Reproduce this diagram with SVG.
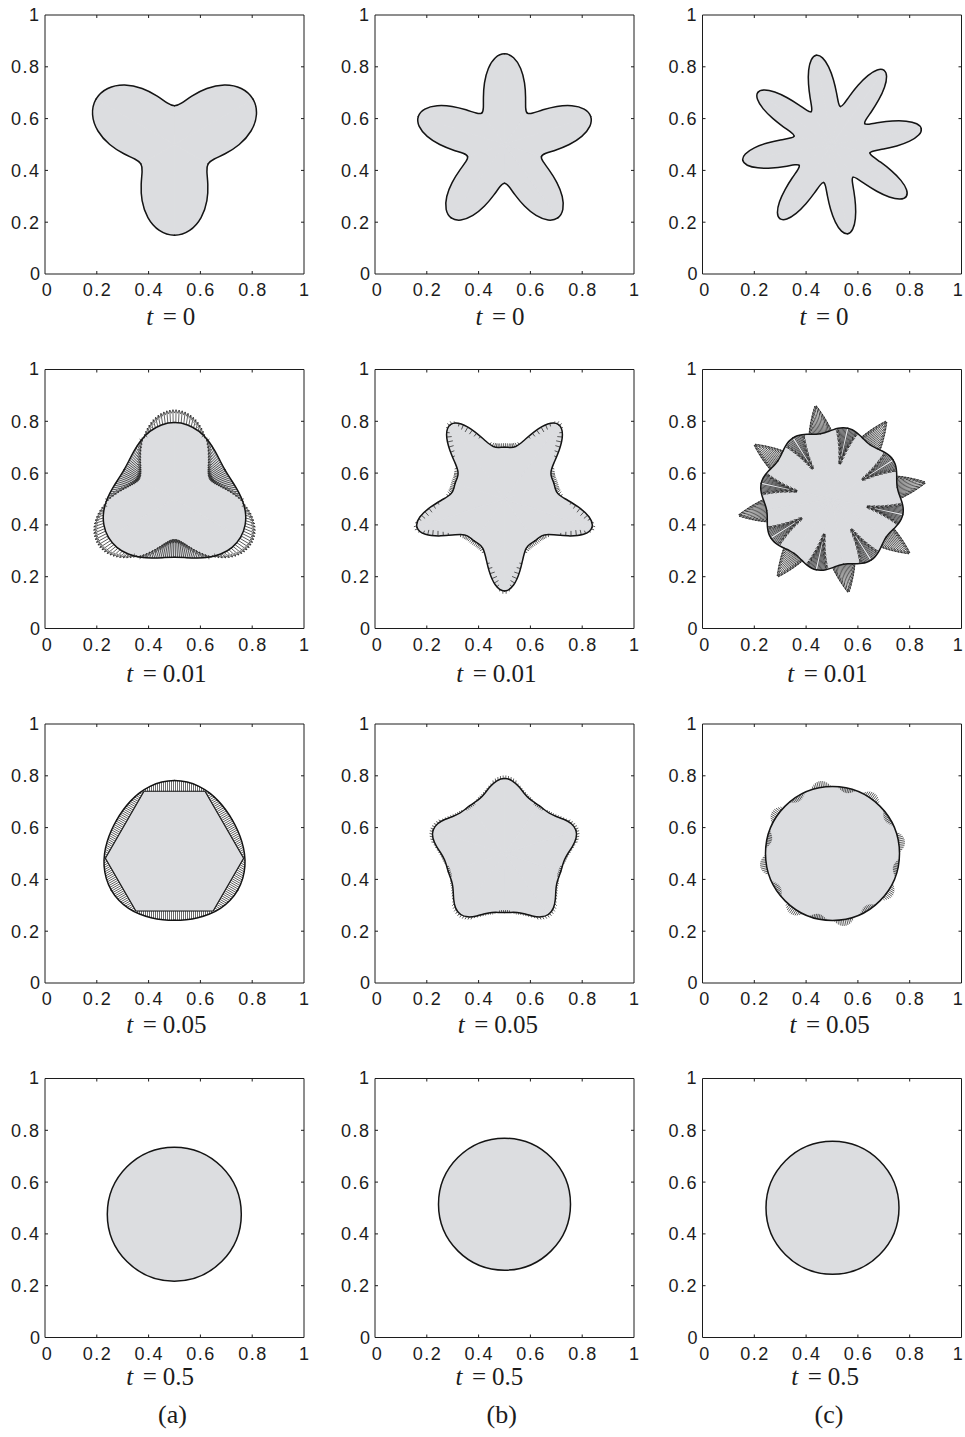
<svg xmlns="http://www.w3.org/2000/svg" width="965" height="1437" viewBox="0 0 965 1437">
<style>
.fr{fill:none;stroke:#1c1c1c;stroke-width:1}
.tl{font-family:"Liberation Sans",Arial,Helvetica,sans-serif;font-size:18px;fill:#1c1c1c;letter-spacing:1.5px}
.ty{text-anchor:end}
.tx{text-anchor:middle}
.cap{font-family:"Liberation Serif","Times New Roman",serif;font-size:25px;fill:#1c1c1c}
.sub{font-family:"Liberation Serif","Times New Roman",serif;font-size:26px;fill:#1c1c1c;text-anchor:middle}
.gf{fill:#dcdde0;stroke:#dcdde0;stroke-width:0.8;stroke-linejoin:round}
.ol{fill:none;stroke:#141414;stroke-width:1.5;stroke-linejoin:round;stroke-linecap:round}
.olt{fill:none;stroke:#141414;stroke-width:1.1;stroke-linejoin:round}
.q{fill:none;stroke:#1a1a1a;stroke-width:0.65}
.qa{marker-end:url(#ah)}
.circ{fill:#dcdde0;stroke:#141414;stroke-width:1.5}
</style>
<defs>
<marker id="ah" viewBox="-4 -2 4.6 4" refX="0" refY="0" markerWidth="4.6" markerHeight="4" markerUnits="userSpaceOnUse" orient="auto"><path d="M-3.4,-1.5L0,0L-3.4,1.5" fill="none" stroke="#1a1a1a" stroke-width="0.6"/></marker>
<path id="frm" d="M0,0H259V259H0Z M51.8,259v-3M103.6,259v-3M155.4,259v-3M207.2,259v-3 M51.8,0v3M103.6,0v3M155.4,0v3M207.2,0v3 M0,51.8h3M0,103.6h3M0,155.4h3M0,207.2h3 M259,51.8h-3M259,103.6h-3M259,155.4h-3M259,207.2h-3"/>

<path id="w1a" d="M0,0L90.65,0C90.65,5.27 88.96,10.54 85.85,15.14C82.74,19.74 78.23,23.66 73.01,26.57C67.79,29.48 61.87,31.38 56.07,32.38C50.27,33.38 44.62,33.51 39.68,33.30C34.74,33.09 30.54,32.57 27.20,32.42C23.86,32.27 21.39,32.51 19.43,33.64Z"/>
<path id="a1a" d="M90.65,0C90.65,5.27 88.96,10.54 85.85,15.14C82.74,19.74 78.23,23.66 73.01,26.57C67.79,29.48 61.87,31.38 56.07,32.38C50.27,33.38 44.62,33.51 39.68,33.30C34.74,33.09 30.54,32.57 27.20,32.42C23.86,32.27 21.39,32.51 19.43,33.64"/>
<g id="pw1a"><use href="#w1a"/><use href="#w1a" transform="scale(1,-1)"/></g>
<g id="pa1a"><use href="#a1a"/><use href="#a1a" transform="scale(1,-1)"/></g>

<path id="w1b" d="M0,0L90.65,0C90.65,3.16 89.27,6.32 86.70,9.11C84.13,11.90 80.39,14.31 76.00,16.15C71.61,17.99 66.58,19.26 61.58,20.01C56.58,20.76 51.63,21.01 47.32,21.07C43.01,21.13 39.35,21.01 36.65,21.16C33.95,21.31 32.23,21.74 31.43,22.84Z"/>
<path id="a1b" d="M90.65,0C90.65,3.16 89.27,6.32 86.70,9.11C84.13,11.90 80.39,14.31 76.00,16.15C71.61,17.99 66.58,19.26 61.58,20.01C56.58,20.76 51.63,21.01 47.32,21.07C43.01,21.13 39.35,21.01 36.65,21.16C33.95,21.31 32.23,21.74 31.43,22.84"/>
<g id="pw1b"><use href="#w1b"/><use href="#w1b" transform="scale(1,-1)"/></g>
<g id="pa1b"><use href="#a1b"/><use href="#a1b" transform="scale(1,-1)"/></g>

<path id="w1c" d="M0,0L90.65,0C90.65,1.98 89.37,3.95 86.99,5.70C84.61,7.45 81.13,8.97 77.03,10.14C72.93,11.31 68.22,12.13 63.51,12.63C58.80,13.13 54.10,13.33 50.03,13.41C45.96,13.49 42.51,13.45 40.07,13.60C37.63,13.75 36.21,14.09 35.89,14.87Z"/>
<path id="a1c" d="M90.65,0C90.65,1.98 89.37,3.95 86.99,5.70C84.61,7.45 81.13,8.97 77.03,10.14C72.93,11.31 68.22,12.13 63.51,12.63C58.80,13.13 54.10,13.33 50.03,13.41C45.96,13.49 42.51,13.45 40.07,13.60C37.63,13.75 36.21,14.09 35.89,14.87"/>
<g id="pw1c"><use href="#w1c"/><use href="#w1c" transform="scale(1,-1)"/></g>
<g id="pa1c"><use href="#a1c"/><use href="#a1c" transform="scale(1,-1)"/></g>

<path id="w2a" d="M0,0L76.41,0C76.41,4.45 75.59,8.88 74.05,13.05C72.51,17.22 70.26,21.12 67.54,24.58C64.82,28.04 61.65,31.07 58.32,33.67C54.99,36.27 51.51,38.45 48.11,40.37C44.71,42.29 41.40,43.95 38.24,45.57C35.08,47.19 32.08,48.77 29.14,50.47Z"/>
<path id="a2a" d="M76.41,0C76.41,4.45 75.59,8.88 74.05,13.05C72.51,17.22 70.26,21.12 67.54,24.58C64.82,28.04 61.65,31.07 58.32,33.67C54.99,36.27 51.51,38.45 48.11,40.37C44.71,42.29 41.40,43.95 38.24,45.57C35.08,47.19 32.08,48.77 29.14,50.47"/>
<g id="pw2a"><use href="#w2a"/><use href="#w2a" transform="scale(1,-1)"/></g>
<g id="pa2a"><use href="#a2a"/><use href="#a2a" transform="scale(1,-1)"/></g>

<path id="w2b" d="M0,0L91.94,0C91.94,3.21 89.75,6.40 86.06,9.05C82.37,11.70 77.25,13.78 72.14,15.33C67.03,16.88 61.99,17.91 58.00,18.85C54.01,19.79 51.06,20.68 49.03,21.83C47.00,22.98 45.83,24.38 44.83,25.89C43.83,27.40 42.97,28.99 41.91,30.45Z"/>
<path id="a2b" d="M91.94,0C91.94,3.21 89.75,6.40 86.06,9.05C82.37,11.70 77.25,13.78 72.14,15.33C67.03,16.88 61.99,17.91 58.00,18.85C54.01,19.79 51.06,20.68 49.03,21.83C47.00,22.98 45.83,24.38 44.83,25.89C43.83,27.40 42.97,28.99 41.91,30.45"/>
<g id="pw2b"><use href="#w2b"/><use href="#w2b" transform="scale(1,-1)"/></g>
<g id="pa2b"><use href="#a2b"/><use href="#a2b" transform="scale(1,-1)"/></g>

<path id="w2c" d="M0,0L66.30,0C66.30,1.45 66.40,2.89 66.58,4.36C66.76,5.83 67.01,7.33 67.28,8.86C67.55,10.39 67.84,11.95 68.08,13.54C68.32,15.13 68.49,16.75 68.54,18.37C68.59,19.99 68.52,21.60 68.27,23.18C68.02,24.76 67.61,26.29 67.00,27.75Z"/>
<path id="a2c" d="M66.30,0C66.30,1.45 66.40,2.89 66.58,4.36C66.76,5.83 67.01,7.33 67.28,8.86C67.55,10.39 67.84,11.95 68.08,13.54C68.32,15.13 68.49,16.75 68.54,18.37C68.59,19.99 68.52,21.60 68.27,23.18C68.02,24.76 67.61,26.29 67.00,27.75"/>
<g id="pw2c"><use href="#w2c"/><use href="#w2c" transform="scale(1,-1)"/></g>
<g id="pa2c"><use href="#a2c"/><use href="#a2c" transform="scale(1,-1)"/></g>

<path id="w3b" d="M0,0L75.11,0C75.11,2.62 74.24,5.23 72.73,7.64C71.22,10.05 69.11,12.25 66.89,14.22C64.67,16.19 62.37,17.94 60.35,19.61C58.33,21.28 56.59,22.89 55.12,24.54C53.65,26.19 52.47,27.91 51.30,29.62C50.13,31.33 48.98,33.04 47.77,34.71Z"/>
<path id="a3b" d="M75.11,0C75.11,2.62 74.24,5.23 72.73,7.64C71.22,10.05 69.11,12.25 66.89,14.22C64.67,16.19 62.37,17.94 60.35,19.61C58.33,21.28 56.59,22.89 55.12,24.54C53.65,26.19 52.47,27.91 51.30,29.62C50.13,31.33 48.98,33.04 47.77,34.71"/>
<g id="pw3b"><use href="#w3b"/><use href="#w3b" transform="scale(1,-1)"/></g>
<g id="pa3b"><use href="#a3b"/><use href="#a3b" transform="scale(1,-1)"/></g>

<path id="e3a" d="M73.04,0C73.04,4.25 72.52,8.50 71.52,12.61C70.52,16.72 69.03,20.70 67.17,24.45C65.31,28.20 63.06,31.72 60.56,34.97C58.06,38.22 55.30,41.20 52.38,43.95C49.46,46.70 46.39,49.20 43.22,51.51C40.05,53.82 36.78,55.93 33.41,57.87"/>
<g id="pe3a"><use href="#e3a"/><use href="#e3a" transform="scale(1,-1)"/></g>

<g id="q2a">
<line x1="76.39" x2="89.32" transform="rotate(1)"/>
<line x1="76.29" x2="89.05" transform="rotate(3)"/>
<line x1="76.10" x2="88.52" transform="rotate(5)"/>
<line x1="75.80" x2="87.72" transform="rotate(7)"/>
<line x1="75.42" x2="86.67" transform="rotate(9)"/>
<line x1="74.94" x2="85.39" transform="rotate(11)"/>
<line x1="74.38" x2="83.87" transform="rotate(13)"/>
<line x1="73.75" x2="82.15" transform="rotate(15)"/>
<line x1="73.04" x2="80.23" transform="rotate(17)"/>
<line x1="72.28" x2="78.15" transform="rotate(19)"/>
<line x1="71.46" x2="75.92" transform="rotate(21)"/>
<line x1="70.59" x2="73.57" transform="rotate(23)"/>
<line x1="69.69" x2="71.12" transform="rotate(25)"/>
<line x1="67.81" x2="66.04" transform="rotate(29)"/>
<line x1="66.87" x2="63.46" transform="rotate(31)"/>
<line x1="65.92" x2="60.90" transform="rotate(33)"/>
<line x1="64.99" x2="58.38" transform="rotate(35)"/>
<line x1="64.09" x2="55.93" transform="rotate(37)"/>
<line x1="63.22" x2="53.58" transform="rotate(39)"/>
<line x1="62.40" x2="51.35" transform="rotate(41)"/>
<line x1="61.64" x2="49.27" transform="rotate(43)"/>
<line x1="60.93" x2="47.35" transform="rotate(45)"/>
<line x1="60.30" x2="45.63" transform="rotate(47)"/>
<line x1="59.74" x2="44.11" transform="rotate(49)"/>
<line x1="59.26" x2="42.83" transform="rotate(51)"/>
<line x1="58.88" x2="41.78" transform="rotate(53)"/>
<line x1="58.58" x2="40.98" transform="rotate(55)"/>
<line x1="58.39" x2="40.45" transform="rotate(57)"/>
<line x1="58.29" x2="40.18" transform="rotate(59)"/>
</g>
<g id="Q2a"><use href="#q2a"/><use href="#q2a" transform="scale(1,-1)"/></g>

<g id="q2b">
<line x1="91.78" x2="94.78" transform="rotate(1)"/>
<line x1="90.53" x2="92.53" transform="rotate(3)"/>
<line x1="88.12" x2="85.95" y2="-2.07" transform="rotate(5)"/>
<line x1="84.73" x2="81.65" y2="-3.95" transform="rotate(7)"/>
<line x1="80.62" x2="77.64" y2="-4.63" transform="rotate(9)"/>
<line x1="76.08" x2="73.60" y2="-4.35" transform="rotate(11)"/>
<line x1="71.41" x2="69.51" y2="-3.52" transform="rotate(13)"/>
<line x1="66.91" x2="65.72" y2="-2.20" transform="rotate(15)"/>
<line x1="56.53" x2="58.11" y2="1.94" transform="rotate(21)"/>
<line x1="54.45" x2="57.05" y2="2.35" transform="rotate(23)"/>
<line x1="53.06" x2="56.51" y2="2.02" transform="rotate(25)"/>
<line x1="52.24" x2="56.05" y2="1.21" transform="rotate(27)"/>
<line x1="51.85" x2="55.82" y2="0.49" transform="rotate(29)"/>
<line x1="51.74" x2="55.74" transform="rotate(31)"/>
<line x1="51.75" x2="55.75" transform="rotate(33)"/>
<line x1="51.80" x2="55.80" transform="rotate(35)"/>
</g>
<g id="Q2b"><use href="#q2b"/><use href="#q2b" transform="scale(1,-1)"/></g>

<g id="q2c">
<line x1="66.31" x2="94.54" transform="rotate(0.5)"/>
<line x1="66.37" x2="91.46" transform="rotate(1.5)"/>
<line x1="66.49" x2="88.45" transform="rotate(2.5)"/>
<line x1="66.67" x2="85.49" transform="rotate(3.5)"/>
<line x1="66.90" x2="82.58" transform="rotate(4.5)"/>
<line x1="67.17" x2="79.72" transform="rotate(5.5)"/>
<line x1="67.50" x2="76.91" transform="rotate(6.5)"/>
<line x1="67.86" x2="74.13" transform="rotate(7.5)"/>
<line x1="68.25" x2="71.39" transform="rotate(8.5)"/>
<line x1="70.77" x2="66.17" transform="rotate(14.5)"/>
<line x1="71.15" x2="61.95" transform="rotate(15.5)"/>
<line x1="71.49" x2="57.69" transform="rotate(16.5)"/>
<line x1="71.79" x2="53.39" transform="rotate(17.5)"/>
<line x1="72.05" x2="49.05" transform="rotate(18.5)"/>
<line x1="72.25" x2="44.65" transform="rotate(19.5)"/>
<line x1="72.40" x2="40.20" transform="rotate(20.5)"/>
<line x1="72.49" x2="35.69" transform="rotate(21.5)"/>
</g>
<g id="Q2c"><use href="#q2c"/><use href="#q2c" transform="scale(1,-1)"/></g>

<g id="s3a">
<line x1="62.16" y1="1" x2="73.02" y2="1"/>
<line x1="62.16" y1="3" x2="72.95" y2="3"/>
<line x1="62.16" y1="5" x2="72.80" y2="5"/>
<line x1="62.16" y1="7" x2="72.57" y2="7"/>
<line x1="62.16" y1="9" x2="72.27" y2="9"/>
<line x1="62.16" y1="11" x2="71.88" y2="11"/>
<line x1="62.16" y1="13" x2="71.42" y2="13"/>
<line x1="62.16" y1="15" x2="70.87" y2="15"/>
<line x1="62.16" y1="17" x2="70.24" y2="17"/>
<line x1="62.16" y1="19" x2="69.54" y2="19"/>
<line x1="62.16" y1="21" x2="68.76" y2="21"/>
<line x1="62.16" y1="23" x2="67.87" y2="23"/>
<line x1="62.16" y1="25" x2="66.91" y2="25"/>
<line x1="62.16" y1="27" x2="65.84" y2="27"/>
<line x1="62.16" y1="29" x2="64.69" y2="29"/>
</g>
<g id="S3a"><use href="#s3a"/><use href="#s3a" transform="scale(1,-1)"/></g>
<g id="l3a">
<line x1="57.5" y1="1" x2="66.82" y2="1"/>
<line x1="57.5" y1="3" x2="66.78" y2="3"/>
<line x1="57.5" y1="5" x2="66.71" y2="5"/>
<line x1="57.5" y1="7" x2="66.60" y2="7"/>
<line x1="57.5" y1="9" x2="66.46" y2="9"/>
<line x1="57.5" y1="11" x2="66.29" y2="11"/>
<line x1="57.5" y1="13" x2="66.07" y2="13"/>
<line x1="57.5" y1="15" x2="65.81" y2="15"/>
<line x1="57.5" y1="17" x2="65.52" y2="17"/>
<line x1="57.5" y1="19" x2="65.18" y2="19"/>
<line x1="57.5" y1="21" x2="64.78" y2="21"/>
<line x1="57.5" y1="23" x2="64.34" y2="23"/>
<line x1="57.5" y1="25" x2="63.87" y2="25"/>
<line x1="57.5" y1="27" x2="63.33" y2="27"/>
<line x1="57.5" y1="29" x2="62.75" y2="29"/>
<line x1="57.5" y1="31" x2="62.09" y2="31"/>
<line x1="57.5" y1="33" x2="61.38" y2="33"/>
<line x1="57.5" y1="35" x2="60.58" y2="35"/>
<line x1="57.5" y1="37" x2="59.72" y2="37"/>
</g>
<g id="L3a"><use href="#l3a"/><use href="#l3a" transform="scale(1,-1)"/></g>

<g id="q3b">
<line x1="75.05" x2="78.05" transform="rotate(1)"/>
<line x1="74.60" x2="77.60" transform="rotate(3)"/>
<line x1="73.71" x2="76.71" transform="rotate(5)"/>
<line x1="72.47" x2="75.47" transform="rotate(7)"/>
<line x1="70.95" x2="73.95" transform="rotate(9)"/>
<line x1="69.26" x2="71.26" transform="rotate(11)"/>
<line x1="67.50" x2="69.50" transform="rotate(13)"/>
<line x1="65.78" x2="67.78" transform="rotate(15)"/>
<line x1="64.19" x2="66.19" transform="rotate(17)"/>
<line x1="62.79" x2="64.79" transform="rotate(19)"/>
<line x1="61.62" x2="63.62" transform="rotate(21)"/>
<line x1="60.72" x2="62.72" transform="rotate(23)"/>
<line x1="60.04" x2="62.04" transform="rotate(25)"/>
<line x1="59.59" x2="61.09" transform="rotate(27)"/>
<line x1="59.15" x2="57.15" transform="rotate(31)"/>
<line x1="59.08" x2="56.58" transform="rotate(33)"/>
<line x1="59.05" x2="56.55" transform="rotate(35)"/>
</g>
<g id="Q3b"><use href="#q3b"/><use href="#q3b" transform="scale(1,-1)"/></g>

<g id="q3c">
<line x1="67" x2="73.45" transform="rotate(0.75)"/>
<line x1="67" x2="73.09" transform="rotate(2.25)"/>
<line x1="67" x2="72.37" transform="rotate(3.75)"/>
<line x1="67" x2="71.29" transform="rotate(5.25)"/>
<line x1="67" x2="69.84" transform="rotate(6.75)"/>
<line x1="67" x2="68.04" transform="rotate(8.25)"/>
<line x1="67" x2="65.56" transform="rotate(15.75)"/>
<line x1="67" x2="64.15" transform="rotate(17.25)"/>
<line x1="67" x2="63.10" transform="rotate(18.75)"/>
<line x1="67" x2="62.40" transform="rotate(20.25)"/>
<line x1="67" x2="62.04" transform="rotate(21.75)"/>
</g>
<g id="Q3c"><use href="#q3c"/><use href="#q3c" transform="scale(1,-1)"/></g>
</defs>

<rect width="965" height="1437" fill="#ffffff"/>

<!-- Row 1 -->
<g id="panel-a1" transform="translate(45,15)">
<use href="#frm" class="fr"/>
<g class="tl"><text class="ty" x="-4.5" y="5.5">1</text><text class="ty" x="-4.5" y="58.3">0.8</text><text class="ty" x="-4.5" y="110.1">0.6</text><text class="ty" x="-4.5" y="161.9">0.4</text><text class="ty" x="-4.5" y="213.7">0.2</text><text class="ty" x="-3.5" y="265">0</text><text class="tx" x="2.4" y="281">0</text><text class="tx" x="52.5" y="281">0.2</text><text class="tx" x="104.3" y="281">0.4</text><text class="tx" x="156.1" y="281">0.6</text><text class="tx" x="207.9" y="281">0.8</text><text class="tx" x="259.7" y="281">1</text></g>
<g id="shape-a1" transform="translate(129.5,129.5)">
<g class="gf"><use href="#pw1a" transform="rotate(90)"/><use href="#pw1a" transform="rotate(-30)"/><use href="#pw1a" transform="rotate(-150)"/></g>
<g class="ol"><use href="#pa1a" transform="rotate(90)"/><use href="#pa1a" transform="rotate(-30)"/><use href="#pa1a" transform="rotate(-150)"/></g>
</g>
</g>
<text class="cap" x="146.2" y="325"><tspan font-style="italic">t</tspan><tspan dx="9.5">=</tspan><tspan dx="6">0</tspan></text>

<g id="panel-b1" transform="translate(375,15)">
<use href="#frm" class="fr"/>
<g class="tl"><text class="ty" x="-4.5" y="5.5">1</text><text class="ty" x="-4.5" y="58.3">0.8</text><text class="ty" x="-4.5" y="110.1">0.6</text><text class="ty" x="-4.5" y="161.9">0.4</text><text class="ty" x="-4.5" y="213.7">0.2</text><text class="ty" x="-3.5" y="265">0</text><text class="tx" x="2.4" y="281">0</text><text class="tx" x="52.5" y="281">0.2</text><text class="tx" x="104.3" y="281">0.4</text><text class="tx" x="156.1" y="281">0.6</text><text class="tx" x="207.9" y="281">0.8</text><text class="tx" x="259.7" y="281">1</text></g>
<g id="shape-b1" transform="translate(129.5,129.5)">
<g class="gf"><use href="#pw1b" transform="rotate(-90)"/><use href="#pw1b" transform="rotate(-162)"/><use href="#pw1b" transform="rotate(126)"/><use href="#pw1b" transform="rotate(54)"/><use href="#pw1b" transform="rotate(-18)"/></g>
<g class="ol"><use href="#pa1b" transform="rotate(-90)"/><use href="#pa1b" transform="rotate(-162)"/><use href="#pa1b" transform="rotate(126)"/><use href="#pa1b" transform="rotate(54)"/><use href="#pa1b" transform="rotate(-18)"/></g>
</g>
</g>
<text class="cap" x="475.5" y="325"><tspan font-style="italic">t</tspan><tspan dx="9.5">=</tspan><tspan dx="6">0</tspan></text>

<g id="panel-c1" transform="translate(702.5,15)">
<use href="#frm" class="fr"/>
<g class="tl"><text class="ty" x="-4.5" y="5.5">1</text><text class="ty" x="-4.5" y="58.3">0.8</text><text class="ty" x="-4.5" y="110.1">0.6</text><text class="ty" x="-4.5" y="161.9">0.4</text><text class="ty" x="-4.5" y="213.7">0.2</text><text class="ty" x="-3.5" y="265">0</text><text class="tx" x="2.4" y="281">0</text><text class="tx" x="52.5" y="281">0.2</text><text class="tx" x="104.3" y="281">0.4</text><text class="tx" x="156.1" y="281">0.6</text><text class="tx" x="207.9" y="281">0.8</text><text class="tx" x="256" y="281">1</text></g>
<g id="shape-c1" transform="translate(129.5,129.5)">
<g class="gf"><use href="#pw1c" transform="rotate(-10)"/><use href="#pw1c" transform="rotate(-55)"/><use href="#pw1c" transform="rotate(-100)"/><use href="#pw1c" transform="rotate(-145)"/><use href="#pw1c" transform="rotate(-190)"/><use href="#pw1c" transform="rotate(-235)"/><use href="#pw1c" transform="rotate(-280)"/><use href="#pw1c" transform="rotate(-325)"/></g>
<g class="ol"><use href="#pa1c" transform="rotate(-10)"/><use href="#pa1c" transform="rotate(-55)"/><use href="#pa1c" transform="rotate(-100)"/><use href="#pa1c" transform="rotate(-145)"/><use href="#pa1c" transform="rotate(-190)"/><use href="#pa1c" transform="rotate(-235)"/><use href="#pa1c" transform="rotate(-280)"/><use href="#pa1c" transform="rotate(-325)"/></g>
</g>
</g>
<text class="cap" x="799.5" y="325"><tspan font-style="italic">t</tspan><tspan dx="9.5">=</tspan><tspan dx="6">0</tspan></text>

<!-- Row 2 -->
<g id="panel-a2" transform="translate(45,369.5)">
<use href="#frm" class="fr"/>
<g class="tl"><text class="ty" x="-4.5" y="5.5">1</text><text class="ty" x="-4.5" y="58.3">0.8</text><text class="ty" x="-4.5" y="110.1">0.6</text><text class="ty" x="-4.5" y="161.9">0.4</text><text class="ty" x="-4.5" y="213.7">0.2</text><text class="ty" x="-3.5" y="265">0</text><text class="tx" x="2.4" y="281">0</text><text class="tx" x="52.5" y="281">0.2</text><text class="tx" x="104.3" y="281">0.4</text><text class="tx" x="156.1" y="281">0.6</text><text class="tx" x="207.9" y="281">0.8</text><text class="tx" x="259.7" y="281">1</text></g>
<g id="shape-a2" transform="translate(129.5,129.5)">
<g class="gf"><use href="#pw2a" transform="rotate(-90)"/><use href="#pw2a" transform="rotate(30)"/><use href="#pw2a" transform="rotate(150)"/></g>
<g class="ol"><use href="#pa2a" transform="rotate(-90)"/><use href="#pa2a" transform="rotate(30)"/><use href="#pa2a" transform="rotate(150)"/></g>
<g class="q qa"><use href="#Q2a" transform="rotate(-90)"/><use href="#Q2a" transform="rotate(30)"/><use href="#Q2a" transform="rotate(150)"/></g>
</g>
</g>
<text class="cap" x="126.2" y="681.5"><tspan font-style="italic">t</tspan><tspan dx="9.5">=</tspan><tspan dx="6">0.01</tspan></text>

<g id="panel-b2" transform="translate(375,369.5)">
<use href="#frm" class="fr"/>
<g class="tl"><text class="ty" x="-4.5" y="5.5">1</text><text class="ty" x="-4.5" y="58.3">0.8</text><text class="ty" x="-4.5" y="110.1">0.6</text><text class="ty" x="-4.5" y="161.9">0.4</text><text class="ty" x="-4.5" y="213.7">0.2</text><text class="ty" x="-3.5" y="265">0</text><text class="tx" x="2.4" y="281">0</text><text class="tx" x="52.5" y="281">0.2</text><text class="tx" x="104.3" y="281">0.4</text><text class="tx" x="156.1" y="281">0.6</text><text class="tx" x="207.9" y="281">0.8</text><text class="tx" x="259.7" y="281">1</text></g>
<g id="shape-b2" transform="translate(129.5,129.5)">
<g class="gf"><use href="#pw2b" transform="rotate(90)"/><use href="#pw2b" transform="rotate(18)"/><use href="#pw2b" transform="rotate(-54)"/><use href="#pw2b" transform="rotate(-126)"/><use href="#pw2b" transform="rotate(162)"/></g>
<g class="ol"><use href="#pa2b" transform="rotate(90)"/><use href="#pa2b" transform="rotate(18)"/><use href="#pa2b" transform="rotate(-54)"/><use href="#pa2b" transform="rotate(-126)"/><use href="#pa2b" transform="rotate(162)"/></g>
<g class="q"><use href="#Q2b" transform="rotate(90)"/><use href="#Q2b" transform="rotate(18)"/><use href="#Q2b" transform="rotate(-54)"/><use href="#Q2b" transform="rotate(-126)"/><use href="#Q2b" transform="rotate(162)"/></g>
</g>
</g>
<text class="cap" x="456.2" y="681.5"><tspan font-style="italic">t</tspan><tspan dx="9.5">=</tspan><tspan dx="6">0.01</tspan></text>

<g id="panel-c2" transform="translate(702.5,369.5)">
<use href="#frm" class="fr"/>
<g class="tl"><text class="ty" x="-4.5" y="5.5">1</text><text class="ty" x="-4.5" y="58.3">0.8</text><text class="ty" x="-4.5" y="110.1">0.6</text><text class="ty" x="-4.5" y="161.9">0.4</text><text class="ty" x="-4.5" y="213.7">0.2</text><text class="ty" x="-3.5" y="265">0</text><text class="tx" x="2.4" y="281">0</text><text class="tx" x="52.5" y="281">0.2</text><text class="tx" x="104.3" y="281">0.4</text><text class="tx" x="156.1" y="281">0.6</text><text class="tx" x="207.9" y="281">0.8</text><text class="tx" x="256" y="281">1</text></g>
<g id="shape-c2" transform="translate(129.5,129.5)">
<g class="gf"><use href="#pw2c" transform="rotate(-10)"/><use href="#pw2c" transform="rotate(-55)"/><use href="#pw2c" transform="rotate(-100)"/><use href="#pw2c" transform="rotate(-145)"/><use href="#pw2c" transform="rotate(-190)"/><use href="#pw2c" transform="rotate(-235)"/><use href="#pw2c" transform="rotate(-280)"/><use href="#pw2c" transform="rotate(-325)"/></g>
<g class="ol"><use href="#pa2c" transform="rotate(-10)"/><use href="#pa2c" transform="rotate(-55)"/><use href="#pa2c" transform="rotate(-100)"/><use href="#pa2c" transform="rotate(-145)"/><use href="#pa2c" transform="rotate(-190)"/><use href="#pa2c" transform="rotate(-235)"/><use href="#pa2c" transform="rotate(-280)"/><use href="#pa2c" transform="rotate(-325)"/></g>
<g class="q qa"><use href="#Q2c" transform="rotate(-10)"/><use href="#Q2c" transform="rotate(-55)"/><use href="#Q2c" transform="rotate(-100)"/><use href="#Q2c" transform="rotate(-145)"/><use href="#Q2c" transform="rotate(-190)"/><use href="#Q2c" transform="rotate(-235)"/><use href="#Q2c" transform="rotate(-280)"/><use href="#Q2c" transform="rotate(-325)"/></g>
</g>
</g>
<text class="cap" x="787.2" y="681.5"><tspan font-style="italic">t</tspan><tspan dx="9.5">=</tspan><tspan dx="6">0.01</tspan></text>

<!-- Row 3 -->
<g id="panel-a3" transform="translate(45,724)">
<use href="#frm" class="fr"/>
<g class="tl"><text class="ty" x="-4.5" y="5.5">1</text><text class="ty" x="-4.5" y="58.3">0.8</text><text class="ty" x="-4.5" y="110.1">0.6</text><text class="ty" x="-4.5" y="161.9">0.4</text><text class="ty" x="-4.5" y="213.7">0.2</text><text class="ty" x="-3.5" y="265">0</text><text class="tx" x="2.4" y="281">0</text><text class="tx" x="52.5" y="281">0.2</text><text class="tx" x="104.3" y="281">0.4</text><text class="tx" x="156.1" y="281">0.6</text><text class="tx" x="207.9" y="281">0.8</text><text class="tx" x="259.7" y="281">1</text></g>
<g id="shape-a3" transform="translate(129.5,129.5)">
<path class="gf" d="M30.47,-62.20L69.10,4.71L38.63,57.49L-38.63,57.49L-69.10,4.71L-30.47,-62.20Z"/>
<g class="q"><use href="#S3a" transform="rotate(-90)"/><use href="#S3a" transform="rotate(30)"/><use href="#S3a" transform="rotate(150)"/><use href="#L3a" transform="rotate(-30)"/><use href="#L3a" transform="rotate(-150)"/><use href="#L3a" transform="rotate(90)"/></g>
<path class="olt" d="M30.47,-62.20L69.10,4.71L38.63,57.49L-38.63,57.49L-69.10,4.71L-30.47,-62.20Z"/>
<g class="ol"><use href="#pe3a" transform="rotate(-90)"/><use href="#pe3a" transform="rotate(30)"/><use href="#pe3a" transform="rotate(150)"/></g>
</g>
</g>
<text class="cap" x="126.2" y="1033"><tspan font-style="italic">t</tspan><tspan dx="9.5">=</tspan><tspan dx="6">0.05</tspan></text>

<g id="panel-b3" transform="translate(375,724)">
<use href="#frm" class="fr"/>
<g class="tl"><text class="ty" x="-4.5" y="5.5">1</text><text class="ty" x="-4.5" y="58.3">0.8</text><text class="ty" x="-4.5" y="110.1">0.6</text><text class="ty" x="-4.5" y="161.9">0.4</text><text class="ty" x="-4.5" y="213.7">0.2</text><text class="ty" x="-3.5" y="265">0</text><text class="tx" x="2.4" y="281">0</text><text class="tx" x="52.5" y="281">0.2</text><text class="tx" x="104.3" y="281">0.4</text><text class="tx" x="156.1" y="281">0.6</text><text class="tx" x="207.9" y="281">0.8</text><text class="tx" x="259.7" y="281">1</text></g>
<g id="shape-b3" transform="translate(129.5,129.5)">
<g class="gf"><use href="#pw3b" transform="rotate(-90)"/><use href="#pw3b" transform="rotate(-162)"/><use href="#pw3b" transform="rotate(126)"/><use href="#pw3b" transform="rotate(54)"/><use href="#pw3b" transform="rotate(-18)"/></g>
<g class="ol"><use href="#pa3b" transform="rotate(-90)"/><use href="#pa3b" transform="rotate(-162)"/><use href="#pa3b" transform="rotate(126)"/><use href="#pa3b" transform="rotate(54)"/><use href="#pa3b" transform="rotate(-18)"/></g>
<g class="q"><use href="#Q3b" transform="rotate(-90)"/><use href="#Q3b" transform="rotate(-162)"/><use href="#Q3b" transform="rotate(126)"/><use href="#Q3b" transform="rotate(54)"/><use href="#Q3b" transform="rotate(-18)"/></g>
</g>
</g>
<text class="cap" x="457.8" y="1033"><tspan font-style="italic">t</tspan><tspan dx="9.5">=</tspan><tspan dx="6">0.05</tspan></text>

<g id="panel-c3" transform="translate(702.5,724)">
<use href="#frm" class="fr"/>
<g class="tl"><text class="ty" x="-4.5" y="5.5">1</text><text class="ty" x="-4.5" y="58.3">0.8</text><text class="ty" x="-4.5" y="110.1">0.6</text><text class="ty" x="-4.5" y="161.9">0.4</text><text class="ty" x="-4.5" y="213.7">0.2</text><text class="ty" x="-3.5" y="265">0</text><text class="tx" x="2.4" y="281">0</text><text class="tx" x="52.5" y="281">0.2</text><text class="tx" x="104.3" y="281">0.4</text><text class="tx" x="156.1" y="281">0.6</text><text class="tx" x="207.9" y="281">0.8</text><text class="tx" x="256" y="281">1</text></g>
<g id="shape-c3" transform="translate(130,129.5)">
<circle class="circ" r="67"/>
<g class="q"><use href="#Q3c" transform="rotate(-10)"/><use href="#Q3c" transform="rotate(-55)"/><use href="#Q3c" transform="rotate(-100)"/><use href="#Q3c" transform="rotate(-145)"/><use href="#Q3c" transform="rotate(-190)"/><use href="#Q3c" transform="rotate(-235)"/><use href="#Q3c" transform="rotate(-280)"/><use href="#Q3c" transform="rotate(-325)"/></g>
</g>
</g>
<text class="cap" x="789.5" y="1033"><tspan font-style="italic">t</tspan><tspan dx="9.5">=</tspan><tspan dx="6">0.05</tspan></text>

<!-- Row 4 -->
<g id="panel-a4" transform="translate(45,1078.5)">
<use href="#frm" class="fr"/>
<g class="tl"><text class="ty" x="-4.5" y="5.5">1</text><text class="ty" x="-4.5" y="58.3">0.8</text><text class="ty" x="-4.5" y="110.1">0.6</text><text class="ty" x="-4.5" y="161.9">0.4</text><text class="ty" x="-4.5" y="213.7">0.2</text><text class="ty" x="-3.5" y="265">0</text><text class="tx" x="2.4" y="281">0</text><text class="tx" x="52.5" y="281">0.2</text><text class="tx" x="104.3" y="281">0.4</text><text class="tx" x="156.1" y="281">0.6</text><text class="tx" x="207.9" y="281">0.8</text><text class="tx" x="259.7" y="281">1</text></g>
<circle id="shape-a4" class="circ" cx="129.3" cy="135.7" r="67"/>
</g>
<text class="cap" x="126.2" y="1385"><tspan font-style="italic">t</tspan><tspan dx="9.5">=</tspan><tspan dx="6">0.5</tspan></text>

<g id="panel-b4" transform="translate(375,1078.5)">
<use href="#frm" class="fr"/>
<g class="tl"><text class="ty" x="-4.5" y="5.5">1</text><text class="ty" x="-4.5" y="58.3">0.8</text><text class="ty" x="-4.5" y="110.1">0.6</text><text class="ty" x="-4.5" y="161.9">0.4</text><text class="ty" x="-4.5" y="213.7">0.2</text><text class="ty" x="-3.5" y="265">0</text><text class="tx" x="2.4" y="281">0</text><text class="tx" x="52.5" y="281">0.2</text><text class="tx" x="104.3" y="281">0.4</text><text class="tx" x="156.1" y="281">0.6</text><text class="tx" x="207.9" y="281">0.8</text><text class="tx" x="259.7" y="281">1</text></g>
<circle id="shape-b4" class="circ" cx="129.5" cy="125.7" r="66"/>
</g>
<text class="cap" x="455.5" y="1385"><tspan font-style="italic">t</tspan><tspan dx="9.5">=</tspan><tspan dx="6">0.5</tspan></text>

<g id="panel-c4" transform="translate(702.5,1078.5)">
<use href="#frm" class="fr"/>
<g class="tl"><text class="ty" x="-4.5" y="5.5">1</text><text class="ty" x="-4.5" y="58.3">0.8</text><text class="ty" x="-4.5" y="110.1">0.6</text><text class="ty" x="-4.5" y="161.9">0.4</text><text class="ty" x="-4.5" y="213.7">0.2</text><text class="ty" x="-3.5" y="265">0</text><text class="tx" x="2.4" y="281">0</text><text class="tx" x="52.5" y="281">0.2</text><text class="tx" x="104.3" y="281">0.4</text><text class="tx" x="156.1" y="281">0.6</text><text class="tx" x="207.9" y="281">0.8</text><text class="tx" x="256" y="281">1</text></g>
<circle id="shape-c4" class="circ" cx="130" cy="129.3" r="66.5"/>
</g>
<text class="cap" x="791.2" y="1385"><tspan font-style="italic">t</tspan><tspan dx="9.5">=</tspan><tspan dx="6">0.5</tspan></text>

<g id="subcaptions">
<text class="sub" x="172.5" y="1423">(a)</text>
<text class="sub" x="501.7" y="1423">(b)</text>
<text class="sub" x="829" y="1423">(c)</text>
</g>
</svg>
